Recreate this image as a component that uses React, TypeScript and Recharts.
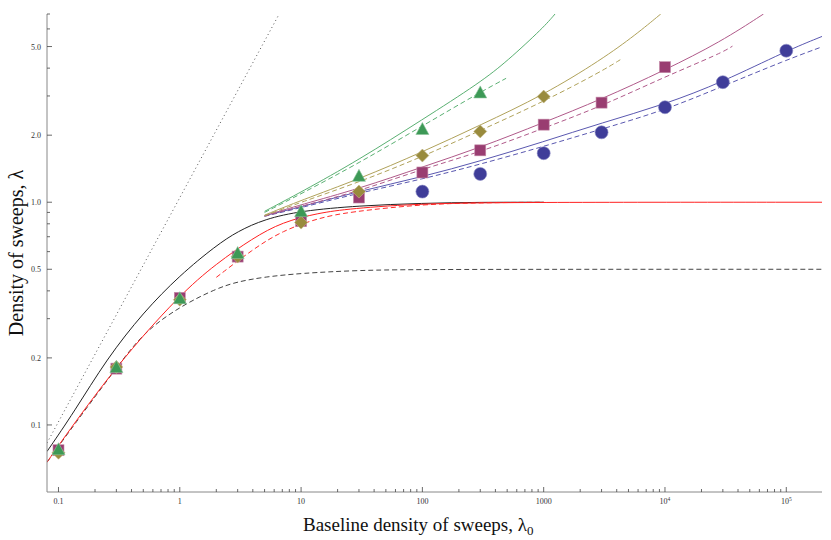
import React from "react";
import { ComposedChart, Line, Scatter, XAxis, YAxis } from "recharts";

// tick values (log axes)
const xMajor = [0.1, 1, 10, 100, 1000, 10000, 100000];
const xMinor = [
  0.2, 0.3, 0.4, 0.5, 0.6, 0.7, 0.8, 0.9,
  2, 3, 4, 5, 6, 7, 8, 9,
  20, 30, 40, 50, 60, 70, 80, 90,
  200, 300, 400, 500, 600, 700, 800, 900,
  2000, 3000, 4000, 5000, 6000, 7000, 8000, 9000,
  20000, 30000, 40000, 50000, 60000, 70000, 80000, 90000,
];
const yMajor = [0.1, 0.2, 0.5, 1, 2, 5];
const yMinor = [0.3, 0.4, 0.6, 0.7, 0.8, 0.9, 3, 4, 6, 7];

// simulation points
const triangles = [[0.1, 0.077], [0.3, 0.18], [1, 0.367], [3, 0.585], [10, 0.902], [30, 1.3], [100, 2.11], [300, 3.08]];
const diamonds = [[0.1, 0.075], [0.3, 0.182], [1, 0.365], [3, 0.57], [10, 0.81], [30, 1.116], [100, 1.62], [300, 2.08], [1000, 2.98]];
const squares = [[0.1, 0.077], [0.3, 0.179], [1, 0.372], [3, 0.57], [10, 0.822], [30, 1.05], [100, 1.36], [300, 1.71], [1000, 2.23], [3000, 2.8], [10000, 4.04]];
const circles = [[100, 1.116], [300, 1.34], [1000, 1.66], [3000, 2.06], [10000, 2.67], [30000, 3.46], [100000, 4.79]];

// curves
const identity = [[0.0804, 0.083], [6.6, 7]];
const blackSolid = [[0.0804, 0.076], [0.134, 0.114], [0.25, 0.198], [0.5, 0.32], [1, 0.47], [2, 0.64], [3, 0.74], [5, 0.84], [10, 0.915], [30, 0.965], [100, 0.99], [300, 1.0], [1000, 1.0]];
const blackDashed = [[0.0804, 0.068], [0.134, 0.1], [0.3, 0.18], [0.5, 0.26], [1, 0.34], [2, 0.41], [3, 0.44], [5, 0.462], [10, 0.48], [30, 0.495], [100, 0.5], [197000, 0.5]];
const redSolid = [[0.0804, 0.068], [0.1, 0.081], [0.3, 0.185], [1, 0.385], [2, 0.53], [4, 0.69], [7, 0.815], [14, 0.895], [25, 0.935], [100, 0.99], [1000, 1.0], [197000, 1.0]];
const redDashed = [[2, 0.46], [4, 0.615], [7, 0.745], [14, 0.85], [25, 0.905], [100, 0.98], [300, 0.995], [1000, 1.0]];
const greenSolid = [[5, 0.91], [10, 1.11], [30, 1.55], [100, 2.35], [300, 3.45], [500, 4.3], [1000, 6.1], [1240, 7.0]];
const greenDashed = [[5, 0.9], [10, 1.09], [30, 1.5], [100, 2.2], [300, 3.12], [490, 3.6]];
const oliveSolid = [[5, 0.875], [10, 1.02], [30, 1.27], [100, 1.68], [300, 2.22], [1000, 3.03], [3000, 4.37], [5740, 5.65], [9230, 7.0]];
const oliveDashed = [[5, 0.87], [10, 1.0], [30, 1.23], [100, 1.6], [300, 2.1], [1000, 2.83], [3000, 3.87], [4330, 4.38]];
const magentaSolid = [[5, 0.87], [10, 0.975], [30, 1.15], [100, 1.44], [300, 1.76], [1000, 2.28], [3000, 2.9], [10000, 3.92], [28800, 5.25], [64900, 7.0]];
const magentaDashed = [[5, 0.865], [10, 0.96], [30, 1.12], [100, 1.41], [300, 1.68], [1000, 2.15], [3000, 2.7], [10000, 3.66], [28800, 4.66], [36000, 5.02]];
const blueSolid = [[5, 0.87], [10, 0.953], [30, 1.12], [100, 1.3], [300, 1.53], [1000, 1.87], [3000, 2.27], [10000, 2.75], [30000, 3.47], [100000, 4.78], [197000, 5.55]];
const blueDashed = [[5, 0.865], [10, 0.945], [30, 1.1], [100, 1.27], [300, 1.48], [1000, 1.78], [3000, 2.13], [10000, 2.59], [30000, 3.32], [100000, 4.35], [192000, 4.96]];

const BLUE = "#3f3d99";
const MAGENTA = "#993d71";
const OLIVE = "#998b3d";
const GREEN = "#3d9956";
const SERIF = "'Liberation Serif', 'Times New Roman', serif";

const pts = (a: number[][]) => a.map(([x, y]) => ({ x, y }));

function XTick(props: any) {
  const { x, y, payload } = props;
  const v = payload.value;
  const major = xMajor.includes(v);
  let label: React.ReactNode = null;
  if (major) {
    if (v >= 10000) {
      label = (
        <>
          10<tspan dy={-3.5} fontSize={5.5}>{v === 10000 ? "4" : "5"}</tspan>
        </>
      );
    } else label = String(v);
  }
  return (
    <g>
      <line x1={x} x2={x} y1={y} y2={y - (major ? 5 : 3)} stroke="#444" strokeWidth={0.8} />
      {major && (
        <text x={x} y={y + 12} textAnchor="middle" fontSize={8} fill="#333" fontFamily={SERIF}>
          {label}
        </text>
      )}
    </g>
  );
}

function YTick(props: any) {
  const { x, y, payload } = props;
  const v = payload.value;
  const major = yMajor.includes(v);
  return (
    <g>
      <line x1={x} x2={x + (major ? 5 : 3)} y1={y} y2={y} stroke="#444" strokeWidth={0.8} />
      {major && (
        <text x={x - 6} y={y + 3} textAnchor="end" fontSize={8} fill="#333" fontFamily={SERIF}>
          {v.toFixed(1)}
        </text>
      )}
    </g>
  );
}

const circleShape = (p: any) => <circle cx={p.cx} cy={p.cy} r={6.5} fill={BLUE} stroke="#8c8cc4" strokeWidth={0.6} />;
const squareShape = (p: any) => (
  <rect x={p.cx - 5.5} y={p.cy - 5.5} width={11} height={11} fill={MAGENTA} stroke="#c48aa8" strokeWidth={0.6} />
);
const diamondShape = (p: any) => (
  <polygon
    points={`${p.cx},${p.cy - 6.5} ${p.cx + 6.5},${p.cy} ${p.cx},${p.cy + 6.5} ${p.cx - 6.5},${p.cy}`}
    fill={OLIVE}
    stroke="#c4b98a"
    strokeWidth={0.6}
  />
);
const triangleShape = (p: any) => (
  <polygon
    points={`${p.cx},${p.cy - 7.5} ${p.cx + 6.5},${p.cy + 4.5} ${p.cx - 6.5},${p.cy + 4.5}`}
    fill={GREEN}
    stroke="#8ac49a"
    strokeWidth={0.6}
  />
);

const curve = (key: string, data: number[][], color: string, dash?: string, type: any = "basis") => (
  <Line
    key={key}
    data={pts(data)}
    dataKey="y"
    type={type}
    stroke={color}
    strokeWidth={1}
    strokeDasharray={dash}
    dot={false}
    activeDot={false}
    isAnimationActive={false}
  />
);

export default function App() {
  return (
    <div style={{ position: "absolute", left: 0, top: 0, width: 831, height: 540, background: "#fff" }}>
      <ComposedChart width={831} height={540} margin={{ top: 14, right: 9, bottom: 18, left: 0 }}>
        <XAxis
          type="number"
          dataKey="x"
          scale="log"
          domain={[0.0804, 197000]}
          allowDataOverflow
          ticks={[...xMajor, ...xMinor]}
          interval={0}
          tick={XTick}
          tickLine={false}
          tickSize={0}
          tickMargin={0}
          height={30}
          axisLine={{ stroke: "#888", strokeWidth: 1 }}
        />
        <YAxis
          type="number"
          dataKey="y"
          scale="log"
          domain={[0.05, 7]}
          allowDataOverflow
          ticks={[...yMajor, ...yMinor]}
          interval={0}
          tick={YTick}
          tickLine={false}
          tickSize={0}
          tickMargin={0}
          width={47}
          axisLine={{ stroke: "#888", strokeWidth: 1 }}
        />
        {curve("identity", identity, "#555", "1 3", "linear")}
        {curve("blackDashed", blackDashed, "#444", "5 3")}
        {curve("blackSolid", blackSolid, "#222")}
        {curve("redDashed", redDashed, "#ff2a2a", "5 3")}
        {curve("redSolid", redSolid, "#ff2020")}
        {curve("blueDashed", blueDashed, "#5a58b0", "5 3")}
        {curve("blueSolid", blueSolid, "#5a58b0")}
        {curve("magentaDashed", magentaDashed, "#b05a8a", "5 3")}
        {curve("magentaSolid", magentaSolid, "#b05a8a")}
        {curve("oliveDashed", oliveDashed, "#b0a25a", "5 3")}
        {curve("oliveSolid", oliveSolid, "#b0a25a")}
        {curve("greenDashed", greenDashed, "#5ab072", "5 3")}
        {curve("greenSolid", greenSolid, "#5ab072")}
        <Scatter data={pts(circles)} shape={circleShape} isAnimationActive={false} />
        <Scatter data={pts(squares)} shape={squareShape} isAnimationActive={false} />
        <Scatter data={pts(diamonds)} shape={diamondShape} isAnimationActive={false} />
        <Scatter data={pts(triangles)} shape={triangleShape} isAnimationActive={false} />
      </ComposedChart>
      <svg width={831} height={540} style={{ position: "absolute", left: 0, top: 0, pointerEvents: "none" }}>
        <text x={303} y={531} fontSize={19} fontFamily={SERIF} fill="#111">
          Baseline density of sweeps, λ<tspan dy={4} fontSize={13}>0</tspan>
        </text>
        <text
          transform="translate(23, 253) rotate(-90)"
          textAnchor="middle"
          fontSize={20}
          fontFamily={SERIF}
          fill="#111"
        >
          Density of sweeps, λ
        </text>
      </svg>
    </div>
  );
}
